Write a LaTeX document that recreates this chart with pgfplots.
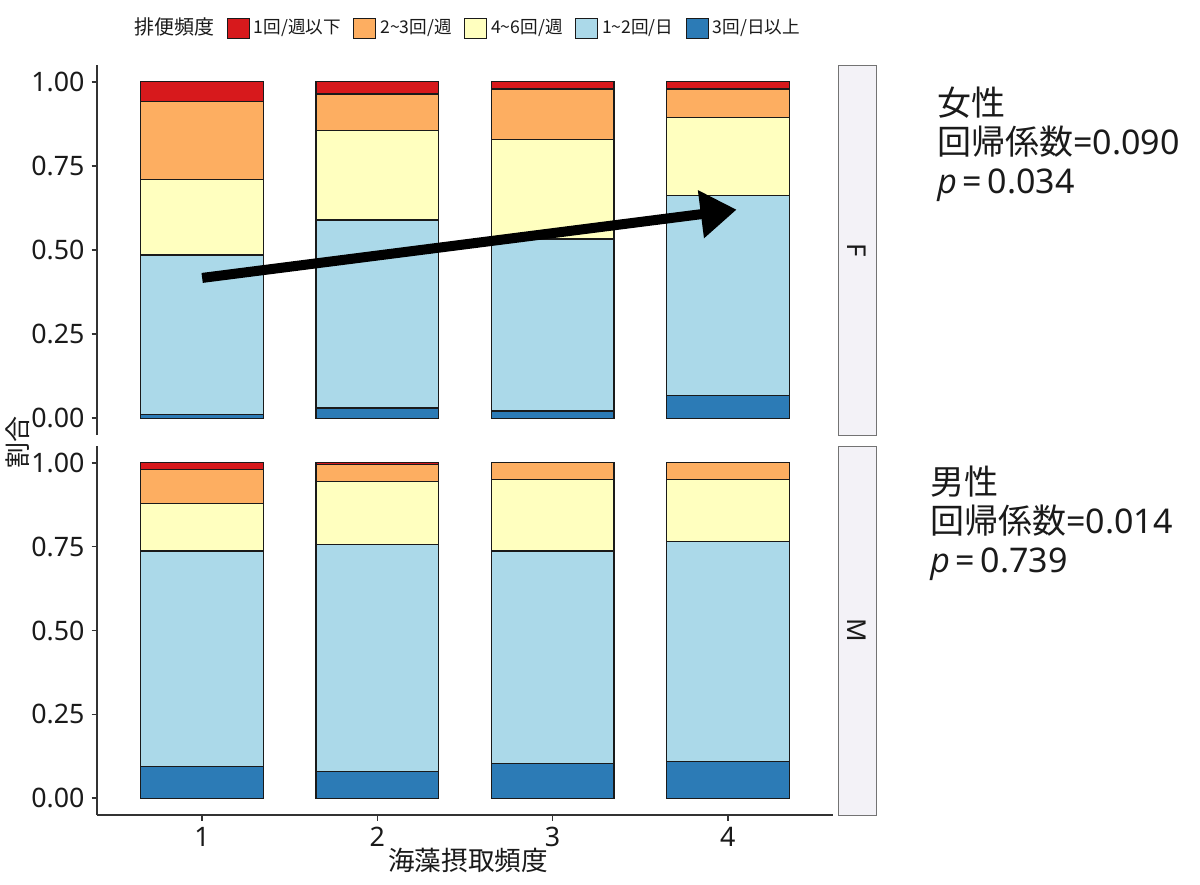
\documentclass[border=0pt]{standalone}
\usepackage{fontspec}
\setmainfont{Noto Sans}
\newfontfamily\cjk{Noto Sans CJK JP}
\newfontfamily\pfont{Open Sans}
\usepackage{pgfplots}
\pgfplotsset{compat=1.18}
\usetikzlibrary{arrows.meta}
\definecolor{cRed}{HTML}{D7191C}
\definecolor{cOra}{HTML}{FDAE61}
\definecolor{cYel}{HTML}{FFFFBF}
\definecolor{cLB}{HTML}{ABD9E9}
\definecolor{cDB}{HTML}{2C7BB6}
\definecolor{stripfill}{HTML}{F3F2F7}
\definecolor{txt}{HTML}{1A1A1A}
\pgfplotsset{
  mybox/.style={legend image code/.code={\draw[##1] (0pt,-5pt) rectangle (11pt,5pt);}},
  panel/.style={
    scale only axis, width=368pt,
    xmin=0.4, xmax=4.6, ymin=-0.05, ymax=1.05,
    ybar stacked, bar width=0.7,
    axis y line*=left,
    axis line style={draw=black!80, line width=0.75pt},
    ytick={0,0.25,0.5,0.75,1},
    yticklabels={0.00,0.25,0.50,0.75,1.00},
    tick align=outside, major tick length=2.75pt,
    tick style={draw=black!80, line width=0.75pt},
    ticklabel style={font=\fontsize{13.4}{15}\selectfont, text=txt},
    /pgf/number format/assume math mode=true,
    every axis plot/.append style={draw=txt, line width=0.65pt, forget plot},
  },
}
\begin{document}
\begin{tikzpicture}
\path[use as bounding box] (0pt,0pt) rectangle (600pt,-442pt);
% ---------- top panel (F)
\begin{axis}[panel, at={(48.5pt,-217.5pt)}, anchor=south west, height=185pt,
  axis x line=none, xtick=\empty,
  legend columns=-1,
  legend style={at={(0.503,1.1)}, anchor=center, draw=none, fill=none,
    font=\fontsize{8.8}{11}\selectfont\cjk, text=txt,
    /tikz/every even column/.append style={column sep=4.2pt}},
]
\addplot[fill=cDB] coordinates {(1,0.012) (2,0.030) (3,0.021) (4,0.068)};
\addplot[fill=cLB] coordinates {(1,0.473) (2,0.559) (3,0.512) (4,0.595)};
\addplot[fill=cYel] coordinates {(1,0.225) (2,0.266) (3,0.295) (4,0.230)};
\addplot[fill=cOra] coordinates {(1,0.231) (2,0.109) (3,0.151) (4,0.086)};
\addplot[fill=cRed] coordinates {(1,0.059) (2,0.036) (3,0.021) (4,0.021)};
\addlegendimage{empty legend}\addlegendentry{\fontsize{10}{12}\selectfont 排便頻度}
\addlegendimage{mybox, fill=cRed, draw=txt, line width=0.5pt}\addlegendentry{1回/週以下}
\addlegendimage{mybox, fill=cOra, draw=txt, line width=0.5pt}\addlegendentry{2\textasciitilde3回/週}
\addlegendimage{mybox, fill=cYel, draw=txt, line width=0.5pt}\addlegendentry{4\textasciitilde6回/週}
\addlegendimage{mybox, fill=cLB, draw=txt, line width=0.5pt}\addlegendentry{1\textasciitilde2回/日}
\addlegendimage{mybox, fill=cDB, draw=txt, line width=0.5pt}\addlegendentry{3回/日以上}
\coordinate (arrA) at (axis cs:1.0,0.417);
\coordinate (arrB) at (axis cs:4.05,0.62);
\end{axis}
\draw[black, line width=5pt, -{Triangle[length=18pt,width=23pt]}] (arrA) -- (arrB);
% ---------- bottom panel (M)
\begin{axis}[panel, at={(48.5pt,-407.5pt)}, anchor=south west, height=184.5pt,
  axis x line*=bottom, xtick={1,2,3,4}, xticklabels={1,2,3,4},
]
\addplot[fill=cDB] coordinates {(1,0.095) (2,0.080) (3,0.104) (4,0.109)};
\addplot[fill=cLB] coordinates {(1,0.642) (2,0.677) (3,0.633) (4,0.657)};
\addplot[fill=cYel] coordinates {(1,0.142) (2,0.187) (3,0.213) (4,0.184)};
\addplot[fill=cOra] coordinates {(1,0.100) (2,0.050) (3,0.050) (4,0.050)};
\addplot[fill=cRed] coordinates {(1,0.021) (2,0.006) (3,0.000) (4,0.000)};
\end{axis}
% ---------- strips
\draw[draw=black!55, fill=stripfill, line width=0.5pt] (419pt,-32.5pt) rectangle (438pt,-217.5pt);
\draw[draw=black!55, fill=stripfill, line width=0.5pt] (419pt,-223pt) rectangle (438pt,-407.5pt);
\node[rotate=-90, text=txt, font=\fontsize{13}{15}\selectfont] at (428.5pt,-125pt) {F};
\node[rotate=-90, text=txt, font=\fontsize{13}{15}\selectfont] at (428.5pt,-315pt) {M};
% ---------- axis titles
\node[text=txt, font=\fontsize{13.3}{15}\selectfont\cjk] at (234pt,-430pt) {海藻摂取頻度};
\node[rotate=90, text=txt, font=\fontsize{13}{15}\selectfont\cjk] at (9pt,-221pt) {割合};
% ---------- annotations
\begin{scope}[every node/.style={anchor=base west, inner sep=0pt, text=txt, font=\fontsize{17}{20}\selectfont}]
\node at (468.5pt,-57.5pt) {\cjk 女性};
\node at (468.5pt,-77pt) {{\cjk 回帰係数}=0.090};
\node at (468.5pt,-96.5pt) {{\pfont\itshape p}\,=\,0.034};
\node at (465pt,-247pt) {\cjk 男性};
\node at (465pt,-266.5pt) {{\cjk 回帰係数}=0.014};
\node at (465pt,-286pt) {{\pfont\itshape p}\,=\,0.739};
\end{scope}
\end{tikzpicture}
\end{document}
